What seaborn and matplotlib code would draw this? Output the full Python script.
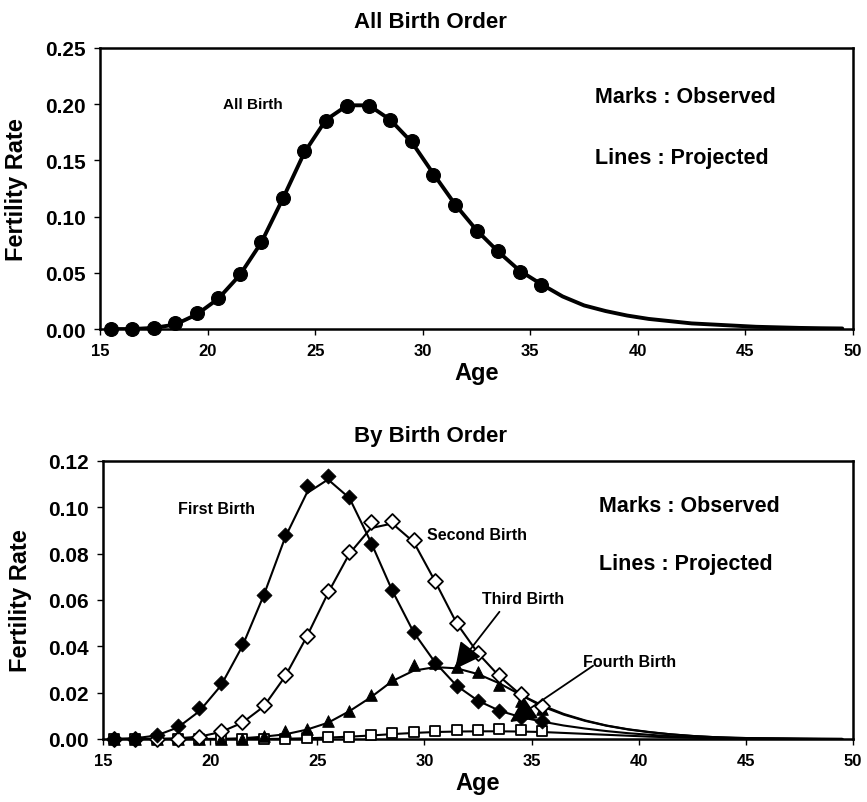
import matplotlib
matplotlib.use("Agg")
import matplotlib.pyplot as plt
import seaborn as sns
import numpy as np

# ages des marques observées et des courbes projetées
ages_obs = [15.5 + i for i in range(21)]      # 15.5 .. 35.5
ages_proj = [15.5 + i for i in range(35)]     # 15.5 .. 49.5

# ---- toutes naissances ----
all_obs = [0.000, 0.000, 0.001, 0.005, 0.014, 0.028, 0.049, 0.077, 0.117, 0.158, 0.185,
           0.198, 0.198, 0.186, 0.167, 0.137, 0.110, 0.087, 0.069, 0.051, 0.039]
all_proj = [0.000, 0.000, 0.001, 0.004, 0.013, 0.027, 0.048, 0.077, 0.116, 0.157, 0.186,
            0.199, 0.199, 0.186, 0.166, 0.138, 0.111, 0.088, 0.069, 0.052, 0.040,
            0.029, 0.021, 0.016, 0.012, 0.009, 0.007, 0.005, 0.004, 0.003, 0.002,
            0.0015, 0.001, 0.0007, 0.0005]

# ---- par rang de naissance ----
first_obs = [0.000, 0.000, 0.0017, 0.0055, 0.0133, 0.024, 0.041, 0.062, 0.088, 0.109, 0.1135,
             0.1045, 0.084, 0.0644, 0.046, 0.033, 0.023, 0.0166, 0.0122, 0.0094, 0.0079]
second_obs = [0.000, 0.000, 0.000, 0.000, 0.001, 0.0033, 0.0075, 0.0147, 0.0274, 0.0444, 0.0637,
              0.0807, 0.0936, 0.0939, 0.0857, 0.068, 0.050, 0.0372, 0.0274, 0.0192, 0.0141]
third_obs = [0.000, 0.000, 0.000, 0.000, 0.000, 0.000, 0.000, 0.0014, 0.0033, 0.0043, 0.0079,
             0.012, 0.019, 0.0259, 0.0318, 0.0328, 0.031, 0.0288, 0.0235, 0.0166, 0.013]
fourth_obs = [0.000, 0.000, 0.000, 0.000, 0.000, 0.000, 0.000, 0.000, 0.000, 0.0005, 0.0007,
              0.001, 0.0015, 0.0024, 0.0029, 0.0033, 0.0039, 0.0039, 0.0043, 0.0039, 0.0036]

first_proj = [0.000, 0.0003, 0.0015, 0.005, 0.012, 0.023, 0.040, 0.062, 0.087, 0.106, 0.112,
              0.104, 0.085, 0.064, 0.046, 0.033, 0.023, 0.0165, 0.0122, 0.0094, 0.0075,
              0.0058, 0.0045, 0.0034, 0.0025, 0.0018, 0.0012, 0.0008, 0.0005, 0.0003, 0.0002,
              0.0001, 0.0001, 0.0, 0.0]
second_proj = [0.000, 0.000, 0.000, 0.0003, 0.001, 0.003, 0.007, 0.014, 0.027, 0.044, 0.063,
               0.080, 0.091, 0.093, 0.085, 0.068, 0.050, 0.037, 0.027, 0.019, 0.014,
               0.0105, 0.0078, 0.0057, 0.0041, 0.0029, 0.002, 0.0013, 0.0008, 0.0005, 0.0003,
               0.0002, 0.0001, 0.0001, 0.0]
third_proj = [0.000, 0.000, 0.000, 0.000, 0.000, 0.000, 0.0003, 0.001, 0.002, 0.004, 0.007,
              0.012, 0.018, 0.025, 0.0295, 0.031, 0.0305, 0.028, 0.024, 0.019, 0.0145,
              0.0108, 0.008, 0.0058, 0.0042, 0.003, 0.002, 0.0013, 0.0008, 0.0005, 0.0003,
              0.0002, 0.0001, 0.0, 0.0]
fourth_proj = [0.000, 0.000, 0.000, 0.000, 0.000, 0.000, 0.000, 0.000, 0.0001, 0.0003, 0.0006,
               0.001, 0.0015, 0.0021, 0.0026, 0.003, 0.0032, 0.0033, 0.0033, 0.0032, 0.003,
               0.0026, 0.0022, 0.0018, 0.0014, 0.001, 0.0007, 0.0005, 0.0003, 0.0002, 0.0001,
               0.0001, 0.0, 0.0, 0.0]

x_ticks = [15, 20, 25, 30, 35, 40, 45, 50]

sns.set_style("ticks")
plt.rcParams['font.family'] = ['Liberation Sans', 'DejaVu Sans']
plt.rcParams['font.weight'] = 'bold'
plt.rcParams['text.color'] = 'black'
plt.rcParams['axes.labelcolor'] = 'black'
plt.rcParams['xtick.color'] = 'black'
plt.rcParams['ytick.color'] = 'black'

fig = plt.figure(figsize=(8.67, 8.03), dpi=100)
ax1 = fig.add_axes([0.1153, 0.589, 0.8686, 0.350])
ax2 = fig.add_axes([0.1188, 0.0785, 0.8651, 0.3462])


def style_axes(ax, ymax, ystep):
    ax.set_xlim(15, 50)
    ax.set_ylim(0, ymax)
    ax.set_xticks(x_ticks)
    ax.set_yticks(np.round(np.arange(0, ymax + ystep / 2, ystep), 3))
    ax.set_yticklabels([f"{v:.2f}" for v in ax.get_yticks()], fontsize=15, fontweight='bold')
    ax.set_xticklabels([str(t) for t in x_ticks], fontsize=12, fontweight='bold')
    ax.tick_params(axis='both', direction='out', length=4, width=1, colors='black', pad=6)
    for sp in ax.spines.values():
        sp.set_visible(True)
        sp.set_linewidth(1.8)
        sp.set_color('black')
    ax.set_xlabel('Age', fontsize=17, fontweight='bold', labelpad=2, color='black')
    ax.set_ylabel('Fertility Rate', fontsize=17, fontweight='bold', color='black')
    ax.yaxis.set_label_coords(-0.095, 0.5)


# ---- graphique du haut ----
sns.lineplot(x=ages_proj, y=all_proj, ax=ax1, color='black', linewidth=2.8)
sns.scatterplot(x=ages_obs, y=all_obs, ax=ax1, color='black', marker='o', s=100,
                edgecolor='black', zorder=3, clip_on=False)
style_axes(ax1, 0.25, 0.05)
ax1.text(20.7, 0.200, 'All Birth', fontsize=11, fontweight='bold', va='center')
ax1.text(38.0, 0.2064, 'Marks : Observed', fontsize=15.5, fontweight='bold', va='center')
ax1.text(38.0, 0.153, 'Lines : Projected', fontsize=15.5, fontweight='bold', va='center')
fig.text(0.496, 0.972, 'All Birth Order', fontsize=16, fontweight='bold', ha='center', va='center')

# ---- graphique du bas ----
for proj in [fourth_proj, third_proj, second_proj, first_proj]:
    sns.lineplot(x=ages_proj, y=proj, ax=ax2, color='black', linewidth=1.5)

sns.scatterplot(x=ages_obs, y=fourth_obs, ax=ax2, marker='s', s=50, color='white',
                edgecolor='black', linewidth=1.3, zorder=3, clip_on=False)
sns.scatterplot(x=ages_obs, y=third_obs, ax=ax2, marker='^', s=70, color='black',
                edgecolor='black', zorder=3, clip_on=False)
sns.scatterplot(x=ages_obs, y=second_obs, ax=ax2, marker='D', s=58, color='white',
                edgecolor='black', linewidth=1.3, zorder=4, clip_on=False)
sns.scatterplot(x=ages_obs, y=first_obs, ax=ax2, marker='D', s=58, color='black',
                edgecolor='black', zorder=5, clip_on=False)
style_axes(ax2, 0.12, 0.02)

ax2.text(18.5, 0.0994, 'First Birth', fontsize=11.5, fontweight='bold', va='center')
ax2.text(30.1, 0.0883, 'Second Birth', fontsize=11.5, fontweight='bold', va='center')
ax2.text(38.14, 0.1007, 'Marks : Observed', fontsize=15.5, fontweight='bold', va='center')
ax2.text(38.14, 0.0756, 'Lines : Projected', fontsize=15.5, fontweight='bold', va='center')
ax2.text(32.7, 0.0605, 'Third Birth', fontsize=11.5, fontweight='bold', va='center')
ax2.text(37.4, 0.0334, 'Fourth Birth', fontsize=11.5, fontweight='bold', va='center')

arrow = dict(arrowstyle='-|>,head_length=0.9,head_width=0.45', color='black', lw=1.3,
             shrinkA=0, shrinkB=0, mutation_scale=18)
ax2.annotate('', xy=(31.43, 0.0302), xytext=(33.5, 0.0549), arrowprops=arrow, zorder=6)
ax2.annotate('', xy=(33.99, 0.0073), xytext=(37.87, 0.0316), arrowprops=arrow, zorder=6)
fig.text(0.496, 0.456, 'By Birth Order', fontsize=16, fontweight='bold', ha='center', va='center')

fig.savefig('out.png', dpi=100, facecolor='white')
